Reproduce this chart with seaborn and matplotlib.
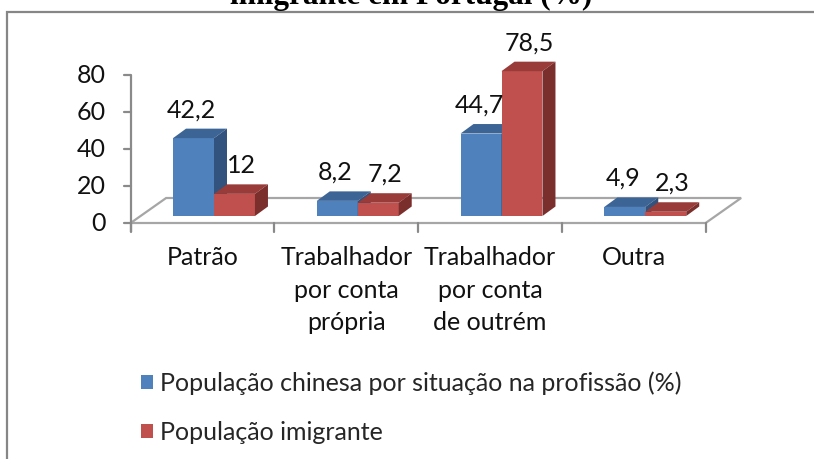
import numpy as np
import pandas as pd
import matplotlib
matplotlib.use("Agg")
import matplotlib.pyplot as plt
import seaborn as sns
from matplotlib.patches import Polygon, Rectangle, Patch

# ---------------- data ----------------
categories = ["Patrão", "Trabalhador\npor conta\nprópria", "Trabalhador\npor conta\nde outrém", "Outra"]
series_names = ["População chinesa por situação na profissão (%)", "População imigrante"]
chinesa = [42.2, 8.2, 44.7, 4.9]
imigrante = [12, 7.2, 78.5, 2.3]
y_ticks = [0, 20, 40, 60, 80]
title_text = "imigrante em Portugal (%)"

df = pd.DataFrame({
    "cat": categories * 2,
    "val": chinesa + imigrante,
    "serie": [series_names[0]] * 4 + [series_names[1]] * 4,
})

# ---------------- style ----------------
sns.set_style("white")
plt.rcParams["font.family"] = ["Lato", "DejaVu Sans"]
FS = 18
front_cols = ["#4F81BD", "#C0504D"]
top_cols = ["#3C6596", "#983B39"]
side_cols = ["#31537D", "#7B2F2D"]
grey = "#8A8A8A"

W, H = 814, 459
fig = plt.figure(figsize=(W / 100, H / 100), dpi=100)
ax = fig.add_axes([0, 0, 1, 1])

sns.barplot(data=df, x="cat", y="val", hue="serie", palette=front_cols,
            width=0.57, gap=0, saturation=1, legend=False, ax=ax,
            linewidth=0, zorder=2)

# pixel geometry of the bar plane
X0, XS = 214.0, 143.75   # pixel x of category 0, px per category
Y0, YS = 216.0, 1.845    # pixel y(top-down) of value 0, px per unit
ax.set_xlim(-X0 / XS, (W - X0) / XS)
ax.set_ylim((Y0 - H) / YS, Y0 / YS)
ax.axis("off")

def off(x, v, px=0.0, py=0.0):
    """data point shifted by pixel offsets (py positive downward)"""
    return (x + px / XS, v - py / YS)

# depth offsets
BDX, BDY = 13.0, -9.5           # bar depth
FRX, FRY = -11.5, 7.0           # front edge of floor relative to bar plane
BKX, BKY = 24.0, -18.0          # back edge of floor

# ---------------- floor ----------------
n = len(categories)
fl = [off(-0.5, 0, FRX, FRY), off(n - 0.5, 0, FRX, FRY),
      off(n - 0.5, 0, BKX, BKY), off(-0.5, 0, BKX, BKY)]
ax.add_patch(Polygon(fl, closed=True, fill=False, edgecolor="#A6A6A6", lw=1.6, zorder=1))

# vertical axis on the front-left corner (scale of front wall)
wall_scale = 1.85 / YS
ax.plot(*zip(off(-0.5, 0, FRX, FRY + 9), off(-0.5, y_ticks[-1] * wall_scale, FRX, FRY)),
        color=grey, lw=1.6, zorder=1, solid_capstyle="butt")
for t in y_ticks:
    p1 = off(-0.5, t * wall_scale, FRX, FRY)
    p0 = off(-0.5, t * wall_scale, FRX - 7, FRY)
    ax.plot([p0[0], p1[0]], [p0[1], p1[1]], color=grey, lw=1.6, zorder=1)
    lp = off(-0.5, t * wall_scale, FRX - 25, FRY)
    ax.text(lp[0], lp[1], str(t), ha="right", va="center", fontsize=FS, color="#111111")

# category ticks and labels
for k in range(n + 1):
    a = off(k - 0.5, 0, FRX, FRY)
    b = off(k - 0.5, 0, FRX, FRY + 9)
    ax.plot([a[0], b[0]], [a[1], b[1]], color=grey, lw=1.6, zorder=1)
for i, c in enumerate(categories):
    lp = off(i, 0, FRX, FRY + 23)
    ax.text(lp[0], lp[1], c, ha="center", va="top", fontsize=FS, color="#111111",
            linespacing=1.5)

# ---------------- 3D faces + value labels ----------------
for s, cont in enumerate(ax.containers):
    for p, v in zip(cont.patches, [chinesa, imigrante][s]):
        p.set_zorder(2 + s)
        x0, w, h = p.get_x(), p.get_width(), p.get_height()
        top = [off(x0, h), off(x0 + w, h), off(x0 + w, h, BDX, BDY), off(x0, h, BDX, BDY)]
        side = [off(x0 + w, 0), off(x0 + w, h), off(x0 + w, h, BDX, BDY), off(x0 + w, 0, BDX, BDY)]
        ax.add_patch(Polygon(top, closed=True, facecolor=top_cols[s], edgecolor="none", zorder=2 + s))
        ax.add_patch(Polygon(side, closed=True, facecolor=side_cols[s], edgecolor="none", zorder=2 + s))
        lab = f"{v:g}".replace(".", ",")
        lx = [-2, 7][s]
        lp = off(x0 + w / 2, h, lx, -21)
        ax.text(lp[0], lp[1], lab, ha="center", va="baseline", fontsize=FS, color="#111111", zorder=5)

# ---------------- legend ----------------
handles = [Patch(facecolor=front_cols[i], edgecolor="none", label=series_names[i]) for i in range(2)]
ax.legend(handles=handles, loc="upper left", bbox_to_anchor=(141 / W, 1 - 371 / H),
          frameon=False, fontsize=FS, handlelength=0.48, handleheight=0.48,
          handletextpad=0.3, labelspacing=1.05, borderpad=0, borderaxespad=0)

# ---------------- title (clipped as in the reference) and border ----------------
fig.text(411 / W, 1 - 4 / H, title_text, ha="center", va="baseline",
         fontsize=22.5, fontweight="bold", family="Liberation Serif", color="black")
fig.patches.append(Rectangle((6.5 / W, -0.1), 1.2, 1.1 - 12 / H, transform=fig.transFigure,
                             fill=False, edgecolor="#868686", lw=1.6))

fig.savefig("out.png", dpi=100)
